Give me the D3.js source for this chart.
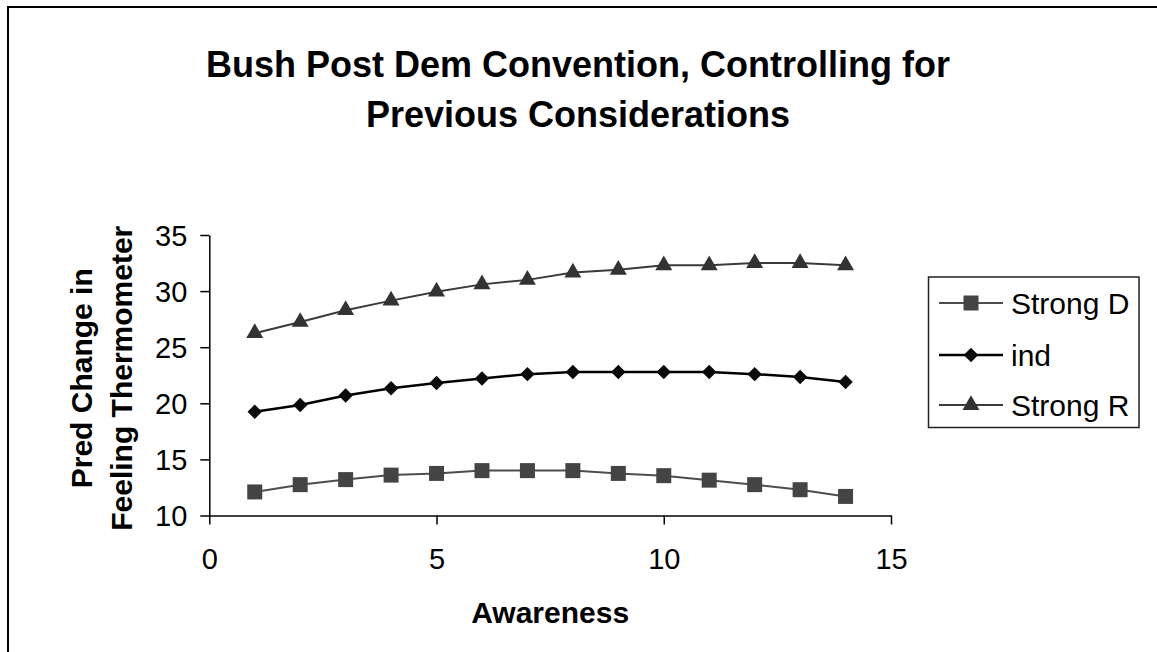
<!DOCTYPE html>
<html>
<head>
<meta charset="utf-8">
<script src="https://cdn.jsdelivr.net/npm/d3@7"></script>
<style>
  html, body { margin: 0; padding: 0; background: #fff; }
  svg { display: block; }
  text { font-family: "Liberation Sans", Arial, sans-serif; fill: #000; }
</style>
</head>
<body>
<script>
// ---- data ----
const awareness = [1, 2, 3, 4, 5, 6, 7, 8, 9, 10, 11, 12, 13, 14];
const strongD = [12.1, 12.75, 13.2, 13.6, 13.75, 14.0, 14.0, 14.0, 13.75, 13.55, 13.15, 12.75, 12.3, 11.7];
const ind = [19.25, 19.85, 20.7, 21.35, 21.8, 22.2, 22.6, 22.8, 22.8, 22.8, 22.8, 22.6, 22.35, 21.9];
const strongR = [26.25, 27.25, 28.3, 29.15, 29.95, 30.6, 31.0, 31.65, 31.9, 32.3, 32.3, 32.5, 32.5, 32.3];
const seriesNames = ["Strong D", "ind", "Strong R"];
const xTicks = [0, 5, 10, 15];
const yTicks = [10, 15, 20, 25, 30, 35];
const titleLines = ["Bush Post Dem Convention, Controlling for", "Previous Considerations"];
const xTitle = "Awareness";
const yTitleLines = ["Pred Change in", "Feeling Thermometer"];

const W = 1157, H = 652;
const svg = d3.select("body").append("svg").attr("width", W).attr("height", H);
svg.append("rect").attr("width", W).attr("height", H).attr("fill", "#fff");

// outer chart border (extends beyond right/bottom)
svg.append("rect").attr("x", 8).attr("y", 7).attr("width", W + 20).attr("height", H + 20)
  .attr("fill", "none").attr("stroke", "#000").attr("stroke-width", 2);

const x = d3.scaleLinear().domain([0, 15]).range([209.3, 891]);
const y = d3.scaleLinear().domain([10, 35]).range([515.5, 235]);

// title
svg.append("text").attr("x", 578).attr("y", 77).attr("text-anchor", "middle")
  .style("font-size", "36px").style("font-weight", "bold")
  .selectAll("tspan").data(titleLines).join("tspan")
  .attr("x", 578).attr("dy", (d, i) => i === 0 ? 0 : 50).text(d => d);

// axes
const xAxis = d3.axisBottom(x).tickValues(xTicks).tickSize(9).tickSizeOuter(0).tickPadding(24);
const yAxis = d3.axisLeft(y).tickValues(yTicks).tickSize(9).tickSizeOuter(0).tickPadding(13);

const gx = svg.append("g").attr("transform", `translate(0,${y(10)})`).call(xAxis);
const gy = svg.append("g").attr("transform", `translate(${x(0)},0)`).call(yAxis);
[gx, gy].forEach(g => {
  g.select(".domain").attr("stroke", "#000").attr("stroke-width", 1.5);
  g.selectAll(".tick line").attr("stroke", "#000").attr("stroke-width", 1.5);
  g.selectAll(".tick text").style("font-size", "29px").style("font-family", '"Liberation Sans", Arial, sans-serif').attr("fill", "#000");
});
gx.selectAll(".tick text").attr("dy", "0.71em");
gy.selectAll(".tick text").attr("dy", "0.36em");

// axis titles
svg.append("text").attr("x", (x(0) + x(15)) / 2).attr("y", 623).attr("text-anchor", "middle")
  .style("font-size", "30px").style("font-weight", "bold").text(xTitle);

const yt = svg.append("text").attr("transform", `translate(92,${(y(10) + y(35)) / 2 + 3}) rotate(-90)`)
  .attr("text-anchor", "middle").style("font-size", "30px").style("font-weight", "bold");
yt.selectAll("tspan").data(yTitleLines).join("tspan")
  .attr("x", 0).attr("y", (d, i) => i * 40).text(d => d);

// series
const series = [
  { name: seriesNames[0], values: strongD, stroke: "#4d4d4d", fill: "#444", width: 2, sym: d3.symbolSquare, size: 225, rot: 0 },
  { name: seriesNames[1], values: ind, stroke: "#000", fill: "#0a0a0a", width: 2.5, sym: d3.symbolSquare, size: 105, rot: 45 },
  { name: seriesNames[2], values: strongR, stroke: "#3a3a3a", fill: "#333", width: 2, sym: d3.symbolTriangle, size: 125, rot: 0 }
];

const line = d3.line().x((d, i) => x(awareness[i])).y(d => y(d));

series.forEach(s => {
  svg.append("path").datum(s.values).attr("d", line)
    .attr("fill", "none").attr("stroke", s.stroke).attr("stroke-width", s.width);
  svg.append("g").selectAll("path").data(s.values).join("path")
    .attr("d", d3.symbol().type(s.sym).size(s.size))
    .attr("transform", (d, i) => `translate(${x(awareness[i])},${y(d)}) rotate(${s.rot})`)
    .attr("fill", s.fill);
});

// legend
const lg = svg.append("g");
lg.append("rect").attr("x", 928.5).attr("y", 277).attr("width", 210.5).attr("height", 150.5)
  .attr("fill", "#fff").attr("stroke", "#222").attr("stroke-width", 1.5);
const legendY = [303, 355, 405];
series.forEach((s, i) => {
  const ly = legendY[i];
  lg.append("line").attr("x1", 939).attr("x2", 1003).attr("y1", ly).attr("y2", ly)
    .attr("stroke", s.stroke).attr("stroke-width", s.width);
  lg.append("path").attr("d", d3.symbol().type(s.sym).size(s.size)())
    .attr("transform", `translate(971,${ly}) rotate(${s.rot})`).attr("fill", s.fill);
  lg.append("text").attr("x", 1011).attr("y", ly).attr("dy", "0.36em")
    .style("font-size", "30px").text(s.name);
});
</script>
</body>
</html>
